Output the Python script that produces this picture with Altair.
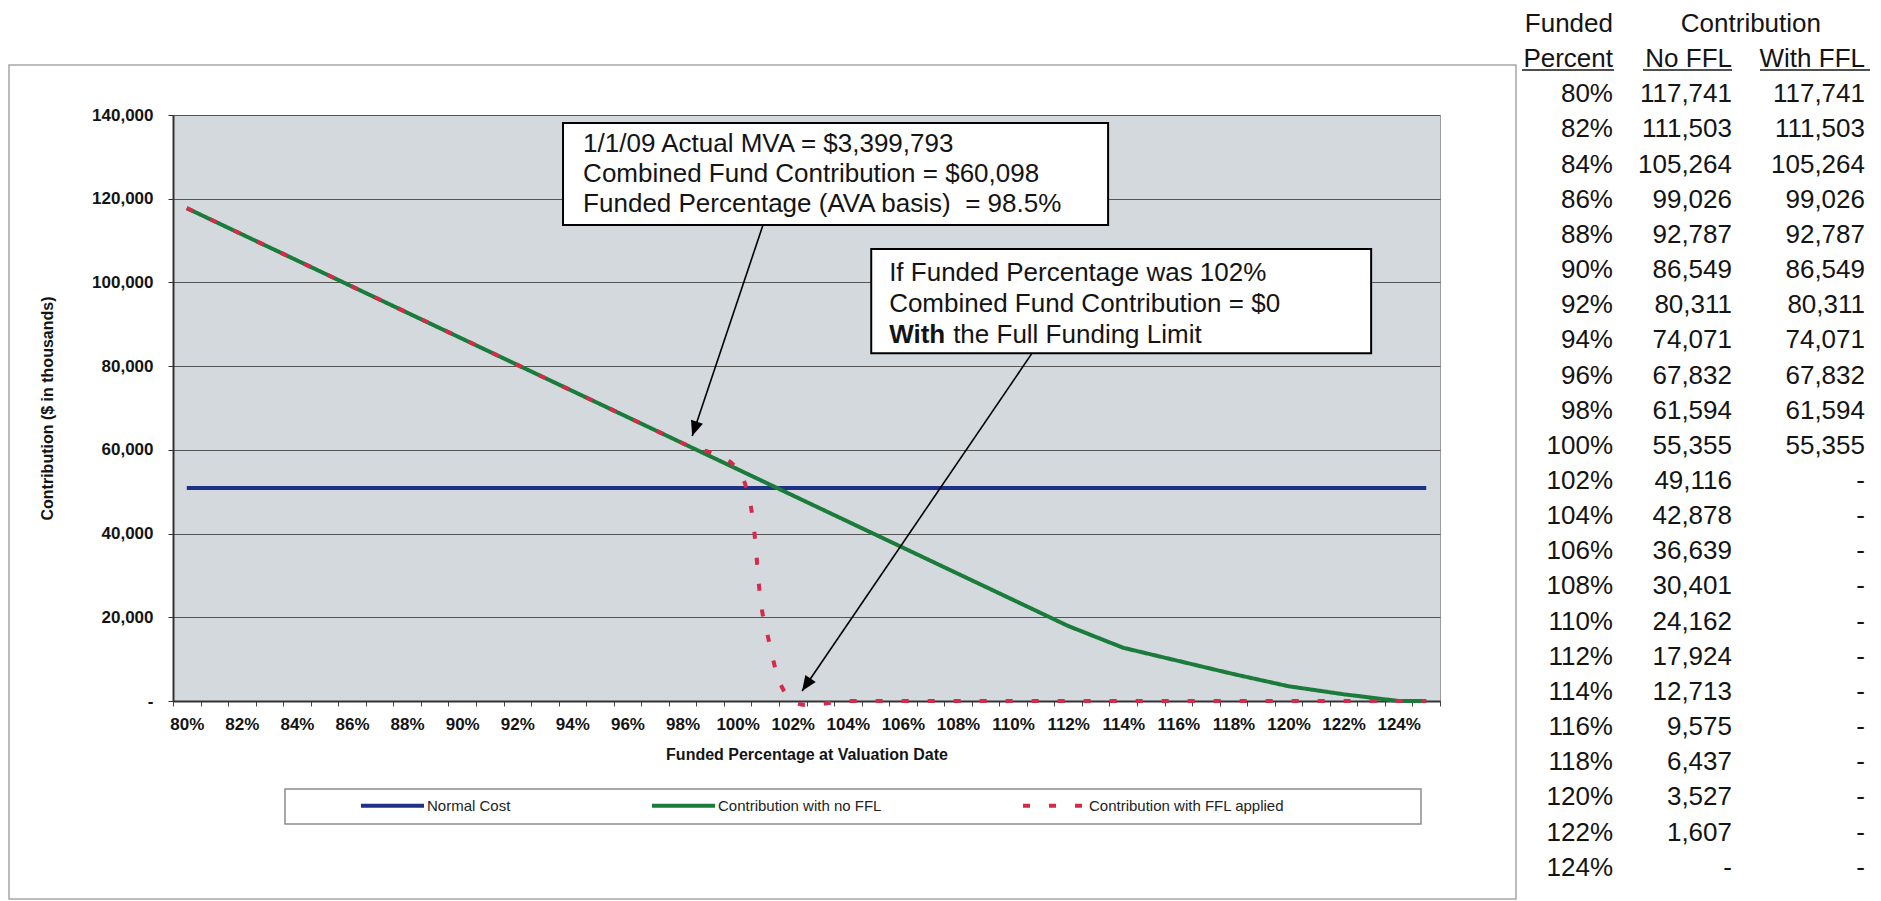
import math
import altair as alt
import pandas as pd

FONT = "Liberation Sans"
BLUE = "#1f3187"
GREEN = "#1b7b3b"
RED = "#d42a4b"
PLOT_BG = "#d4d9de"
INK = "#141414"
NB = "\u00a0"

# ---------------- table values (right-hand table) ----------------
pct = [80, 82, 84, 86, 88, 90, 92, 94, 96, 98, 100,
       102, 104, 106, 108, 110, 112, 114, 116, 118, 120, 122, 124]
no_ffl = [117741, 111503, 105264, 99026, 92787, 86549, 80311, 74071, 67832,
          61594, 55355, 49116, 42878, 36639, 30401, 24162, 17924, 12713,
          9575, 6437, 3527, 1607, 0]
with_ffl = [117741, 111503, 105264, 99026, 92787, 86549, 80311, 74071, 67832,
            61594, 55355, 0, 0, 0, 0, 0, 0, 0, 0, 0, 0, 0, 0]

# ---------------- values ----------------
normal_cost = 50900
end_pct = 125
end_no_ffl = 0
end_with_ffl = 0
ffl_drop_pct = 101
ffl_drop_value = 18000

series = ["Normal Cost", "Contribution with no FFL", "Contribution with FFL applied"]

# ---------------- callouts (data units: % funded, $ thousands) ----------------
box_x1 = [93.66, 104.85]
box_x2 = [113.45, 123.0]
box_y1 = [138100, 108000]
box_y2 = [113700, 83100]
box1_lines = ["1/1/09 Actual MVA = $3,399,793",
              "Combined Fund Contribution = $60,098",
              "Funded Percentage (AVA basis)" + NB + " = 98.5%"]
box1_text_x = 94.39
box1_text_y = [133000, 125900, 118700]
box2_lines = ["If Funded Percentage was 102%",
              "Combined Fund Contribution = $0"]
box2_text_x = 105.5
box2_text_y = [102300, 94900, 87500]
box2_bold = "With"
box2_rest = "the Full Funding Limit"
arrow_x = [100.92, 110.69]
arrow_y = [113700, 83100]
arrow_tip_x = [98.35, 102.34]
arrow_tip_y = [63300, 2400]

# ---------------- geometry ----------------
W, H = 1267, 586
X_DOMAIN = [79.5, 125.5]
Y_DOMAIN = [0, 140000]
px_per_pct = W / (X_DOMAIN[1] - X_DOMAIN[0])
px_per_unit = H / (Y_DOMAIN[1] - Y_DOMAIN[0])

xs = alt.Scale(domain=X_DOMAIN, nice=False, zero=False)
ys = alt.Scale(domain=Y_DOMAIN, nice=False, zero=True)
color_scale = alt.Scale(domain=series, range=[BLUE, GREEN, RED])
dash_scale = alt.Scale(domain=series, range=[[1, 0], [1, 0], [7, 19]])

legend = alt.Legend(title=None, orient="none", legendX=186, legendY=657,
                    direction="horizontal", symbolType="stroke", symbolSize=3969,
                    symbolStrokeWidth=4, labelFont=FONT, labelFontSize=15,
                    labelColor="#222222", labelOffset=1, columnPadding=133,
                    padding=0, labelLimit=400)

# ---------------- line data ----------------
chart_pct = pct + [end_pct]
nc_df = pd.DataFrame({"pct": chart_pct, "value": [normal_cost] * len(chart_pct),
                      "series": series[0]})
green_df = pd.DataFrame({"pct": chart_pct, "value": no_ffl + [end_no_ffl],
                         "series": series[1]})
red_pairs = sorted(list(zip(pct, with_ffl)) + [(ffl_drop_pct, ffl_drop_value),
                                               (end_pct, end_with_ffl)])
red_df = pd.DataFrame({"pct": [p for p, _ in red_pairs],
                       "value": [v for _, v in red_pairs], "series": series[2]})

y_axis = alt.Axis(values=list(range(0, 140001, 20000)), orient="left",
                  labelExpr="datum.value == 0 ? '-" + NB * 4 + "' : format(datum.value, ',')",
                  labelFont=FONT, labelFontSize=17, labelFontWeight="bold",
                  labelColor=INK, labelPadding=15, tickSize=5, tickColor="#333333",
                  domain=True, domainColor="#333333", domainWidth=2,
                  grid=True, gridColor="#555555", gridWidth=1,
                  title="Contribution ($ in thousands)", titleFont=FONT,
                  titleFontSize=16, titleFontWeight="bold", titleColor=INK,
                  titlePadding=36)
x_tick_axis = alt.Axis(values=[X_DOMAIN[0] + i for i in range(47)], labels=False,
                       ticks=True, tickSize=5, tickColor="#444444", domain=True,
                       domainColor="#333333", domainWidth=2, grid=False,
                       orient="bottom")
x_label_axis = alt.Axis(values=list(range(80, 125, 2)), labelExpr="datum.value + '%'",
                        ticks=False, domain=False, grid=False, orient="bottom",
                        labelFont=FONT, labelFontSize=17, labelFontWeight="bold",
                        labelColor=INK, labelPadding=15, labelFlush=False,
                        labelOverlap=False,
                        title="Funded Percentage at Valuation Date", titleFont=FONT,
                        titleFontSize=16, titleFontWeight="bold", titleColor=INK,
                        titlePadding=14)


def line_layer(df, xaxis, yaxis, interp="linear"):
    xenc = alt.X("pct:Q", scale=xs, axis=xaxis, title=None)
    yenc = alt.Y("value:Q", scale=ys, axis=yaxis)
    if yaxis is None:
        yenc = alt.Y("value:Q", scale=ys, axis=None)
    return alt.Chart(df).mark_line(strokeWidth=4, interpolate=interp, clip=False).encode(
        x=xenc, y=yenc,
        color=alt.Color("series:N", scale=color_scale, legend=legend),
        strokeDash=alt.StrokeDash("series:N", scale=dash_scale, legend=legend),
    )


nc = line_layer(nc_df, x_tick_axis, y_axis)
green = line_layer(green_df, x_label_axis, None)
red = line_layer(red_df, None, None, interp="catmull-rom")

# ---------------- callouts ----------------
box_df = pd.DataFrame({"x1": box_x1, "x2": box_x2, "y1": box_y1, "y2": box_y2})
boxes = alt.Chart(box_df).mark_rect(fill="white", stroke="black", strokeWidth=2).encode(
    x=alt.X("x1:Q", scale=xs, axis=None), x2="x2:Q",
    y=alt.Y("y1:Q", scale=ys, axis=None), y2="y2:Q")

txt_df = pd.DataFrame({"x": [box1_text_x] * 3 + [box2_text_x] * 2,
                       "y": box1_text_y + box2_text_y[:2],
                       "t": box1_lines + box2_lines})
texts = alt.Chart(txt_df).mark_text(align="left", baseline="middle", font=FONT,
                                    fontSize=26, color=INK).encode(
    x=alt.X("x:Q", scale=xs, axis=None), y=alt.Y("y:Q", scale=ys, axis=None), text="t:N")

bold_df = pd.DataFrame({"x": [box2_text_x], "y": [box2_text_y[2]], "t": [box2_bold]})
bold_txt = alt.Chart(bold_df).mark_text(align="left", baseline="middle", font=FONT,
                                        fontSize=26, fontWeight="bold", color=INK).encode(
    x=alt.X("x:Q", scale=xs, axis=None), y=alt.Y("y:Q", scale=ys, axis=None), text="t:N")
rest_df = pd.DataFrame({"x": [box2_text_x], "y": [box2_text_y[2]], "t": [box2_rest]})
rest_txt = alt.Chart(rest_df).mark_text(align="left", baseline="middle", font=FONT,
                                        fontSize=26, color=INK, dx=64).encode(
    x=alt.X("x:Q", scale=xs, axis=None), y=alt.Y("y:Q", scale=ys, axis=None), text="t:N")

angles = []
for x0, y0, x1, y1 in zip(arrow_x, arrow_y, arrow_tip_x, arrow_tip_y):
    dxp = (x1 - x0) * px_per_pct
    dyp = -(y1 - y0) * px_per_unit
    angles.append(math.degrees(math.atan2(dxp, -dyp)) % 360)
arrow_df = pd.DataFrame({"x": arrow_x, "y": arrow_y, "tx": arrow_tip_x,
                         "ty": arrow_tip_y, "angle": angles})
arrows = alt.Chart(arrow_df).mark_rule(color="black", strokeWidth=1.6).encode(
    x=alt.X("x:Q", scale=xs, axis=None), y=alt.Y("y:Q", scale=ys, axis=None),
    x2="tx:Q", y2="ty:Q")
heads = alt.Chart(arrow_df).mark_point(shape="M0,0L-0.42,1L0.42,1Z", filled=True,
                                       size=900, color="black", opacity=1,
                                       strokeWidth=0).encode(
    x=alt.X("tx:Q", scale=xs, axis=None), y=alt.Y("ty:Q", scale=ys, axis=None),
    angle=alt.Angle("angle:Q", scale=None))

# ---------------- decorations: chart border, legend box ----------------
one = pd.DataFrame({"k": [0]})
frame = alt.Chart(one).mark_rect(fillOpacity=0, stroke="#a6a6a6", strokeWidth=1.5).encode(
    x=alt.value(-164), x2=alt.value(1343), y=alt.value(-50), y2=alt.value(784))
legend_box = alt.Chart(one).mark_rect(fill="white", stroke="#8c8c8c", strokeWidth=1.5).encode(
    x=alt.value(112), x2=alt.value(1248), y=alt.value(674), y2=alt.value(709))

# ---------------- table ----------------
def fmt(v):
    return f"{v:,}" if v else "-" + NB * 4

rows, cols, texts_t = [], [], []
for i, p in enumerate(pct):
    for c, s in enumerate([f"{p}%", fmt(no_ffl[i]), fmt(with_ffl[i])]):
        rows.append(i + 2)
        cols.append(c)
        texts_t.append(s)
table_df = pd.DataFrame({"row": rows, "col": cols, "t": texts_t})
head_df = pd.DataFrame({"row": [0, 1, 1, 1], "col": [0, 0, 1, 2],
                        "t": ["Funded", "Percent", "No FFL", "With FFL"]})
contrib_df = pd.DataFrame({"row": [0], "col": [2], "t": ["Contribution"]})

tx = alt.Scale(domain=[0, 1, 2], range=[1440, 1559, 1692], zero=False, nice=False)
ty = alt.Scale(domain=[0, 24], range=[-91, 752.7], zero=False, nice=False)


def table_text(df, dx=0):
    return alt.Chart(df).mark_text(align="right", baseline="middle", font=FONT,
                                   fontSize=26, color=INK, dx=dx).encode(
        x=alt.X("col:Q", scale=tx, axis=None), y=alt.Y("row:Q", scale=ty, axis=None),
        text="t:N")


table_vals = table_text(table_df)
table_heads = table_text(head_df)
contrib_head = table_text(contrib_df, dx=-44)

ul1 = alt.Chart(one).mark_rule(color=INK, strokeWidth=1.5).encode(
    x=alt.value(1349), x2=alt.value(1441), y=alt.value(-45))
ul2 = alt.Chart(one).mark_rule(color=INK, strokeWidth=1.5).encode(
    x=alt.value(1470), x2=alt.value(1559), y=alt.value(-45))
ul3 = alt.Chart(one).mark_rule(color=INK, strokeWidth=1.5).encode(
    x=alt.value(1587), x2=alt.value(1697), y=alt.value(-45))

chart = alt.layer(
    frame, legend_box, nc, green, red, boxes, texts, bold_txt, rest_txt, arrows, heads,
    table_vals, table_heads, contrib_head, ul1, ul2, ul3
).resolve_scale(x="independent", y="independent").properties(
    width=W, height=H, padding={"left": 0, "top": 3, "right": 0, "bottom": 0}
).configure_view(fill=PLOT_BG, stroke="#9c9c9c", strokeWidth=1)

chart.save("out.html", embed_options={"renderer": "svg", "actions": False})
